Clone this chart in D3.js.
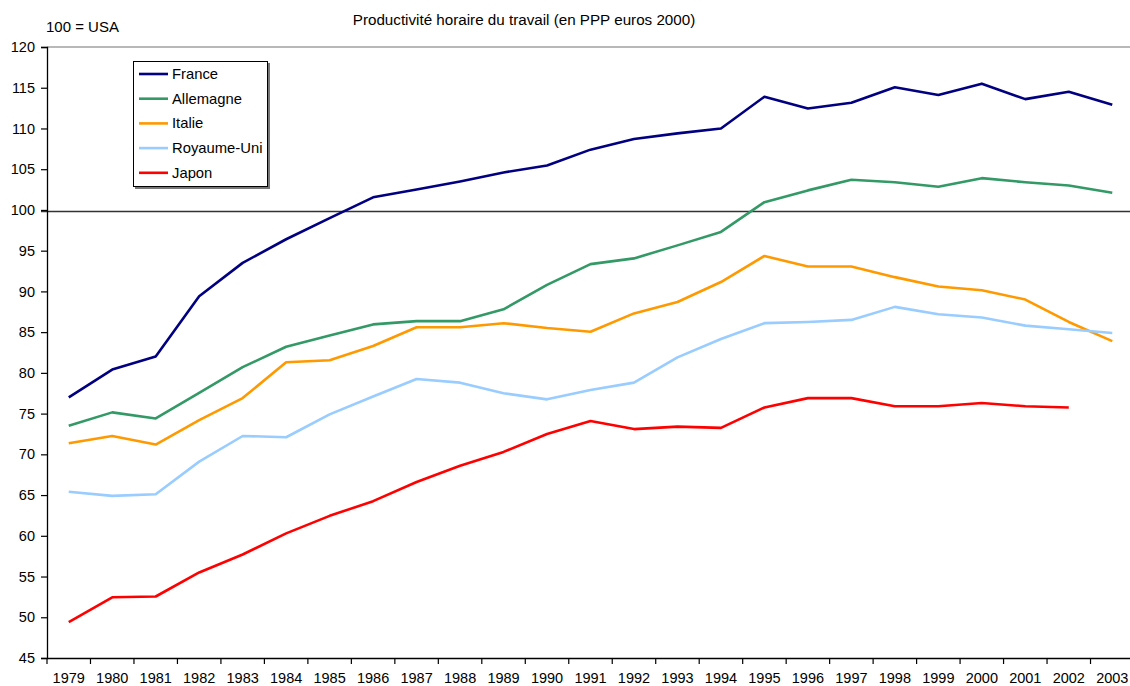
<!DOCTYPE html>
<html><head><meta charset="utf-8">
<script src="https://cdn.jsdelivr.net/npm/d3@7"></script>
<style>body{margin:0;background:#fff}svg{display:block}text{font-family:"Liberation Sans",Arial,sans-serif}</style>
</head><body><svg id="c" width="1130" height="686"></svg>
<script>
const years = ["1979","1980","1981","1982","1983","1984","1985","1986","1987","1988","1989","1990","1991","1992","1993","1994","1995","1996","1997","1998","1999","2000","2001","2002","2003"];
const france = [77.0,80.4,82.0,89.4,93.5,96.4,99.0,101.55,102.5,103.5,104.6,105.45,107.4,108.7,109.4,110.0,113.9,112.45,113.15,115.05,114.1,115.5,113.6,114.5,112.9];
const allemagne = [73.5,75.15,74.4,77.55,80.7,83.2,84.6,85.95,86.35,86.35,87.8,90.8,93.35,94.05,95.65,97.3,100.95,102.4,103.7,103.4,102.85,103.9,103.4,103.0,102.1];
const italie = [71.35,72.25,71.2,74.2,76.9,81.3,81.55,83.3,85.6,85.6,86.1,85.5,85.05,87.3,88.7,91.15,94.35,93.05,93.05,91.75,90.6,90.15,89.0,86.25,83.9];
const royaumeUni = [65.4,64.9,65.1,69.1,72.25,72.1,74.9,77.1,79.25,78.8,77.5,76.75,77.9,78.8,81.9,84.15,86.1,86.25,86.5,88.1,87.2,86.8,85.8,85.35,84.9];
const japon = [49.4,52.45,52.55,55.5,57.7,60.3,62.45,64.25,66.6,68.6,70.3,72.5,74.1,73.1,73.4,73.25,75.75,76.9,76.9,75.9,75.9,76.3,75.9,75.75,null];
const seriesNames = ["France","Allemagne","Italie","Royaume-Uni","Japon"];
const seriesColors = ["#000080","#339966","#FF9900","#99CCFF","#FF0000"];
const yTicks = [45,50,55,60,65,70,75,80,85,90,95,100,105,110,115,120];
const title = "Productivité horaire du travail (en PPP euros 2000)";
const unitLabel = "100 = USA";
const reference = 100;

const seriesData = [france, allemagne, italie, royaumeUni, japon];
const svg = d3.select("#c");
const L = 47, R = 1134, T = 47, B = 658;
const x = d3.scaleBand().domain(years).range([L, R]);
const y = d3.scaleLinear().domain([45, 120]).range([B, T]);

// top border of plot area
svg.append("line").attr("x1", L).attr("x2", 1130).attr("y1", y(120)).attr("y2", y(120))
  .attr("stroke", "#a0a0a0").attr("stroke-width", 1.5);

// reference line 100 = USA
svg.append("line").attr("x1", L - 6).attr("x2", 1130).attr("y1", y(reference) + 1.5).attr("y2", y(reference) + 1.5)
  .attr("stroke", "#333").attr("stroke-width", 1.5);

// y axis
const yAxis = svg.append("g").attr("transform", `translate(${L},0)`)
  .call(d3.axisLeft(y).tickValues(yTicks).tickSize(6).tickPadding(6).tickFormat(d3.format("d")));
yAxis.select(".domain").attr("stroke", "#000").attr("stroke-width", 1.3);
yAxis.selectAll(".tick line").attr("stroke", "#000").attr("stroke-width", 1.2);
yAxis.selectAll("text").attr("font-size", 14.5).attr("fill", "#000")
  .attr("font-family", '"Liberation Sans",Arial,sans-serif');

// x axis
const xAxis = svg.append("g").attr("transform", `translate(0,${B})`)
  .call(d3.axisBottom(x).tickSize(0).tickPadding(15));
xAxis.select(".domain").attr("stroke", "#000").attr("stroke-width", 1.3);
xAxis.selectAll("text").attr("font-size", 14.5).attr("fill", "#000")
  .attr("font-family", '"Liberation Sans",Arial,sans-serif');
// ticks at band boundaries
svg.append("g").selectAll("line").data(years).join("line")
  .attr("x1", d => x(d)).attr("x2", d => x(d)).attr("y1", B).attr("y2", B + 6)
  .attr("stroke", "#000").attr("stroke-width", 1.2);

// lines
const line = d3.line().defined(d => d != null)
  .x((d, i) => x(years[i]) + x.bandwidth() / 2).y(d => y(d));
seriesData.forEach((s, k) => {
  svg.append("path").datum(s).attr("d", line).attr("fill", "none")
    .attr("stroke", seriesColors[k]).attr("stroke-width", 2.6).attr("stroke-linejoin", "round");
});

// titles
svg.append("text").attr("x", 524).attr("y", 25).attr("text-anchor", "middle")
  .attr("font-size", 15.2).text(title);
svg.append("text").attr("x", 46).attr("y", 32).attr("font-size", 15).text(unitLabel);

// legend
const lg = svg.append("g");
lg.append("rect").attr("x", 135).attr("y", 63).attr("width", 135).attr("height", 126).attr("fill", "#777");
lg.append("rect").attr("x", 133.5).attr("y", 61.5).attr("width", 134).attr("height", 125)
  .attr("fill", "#fff").attr("stroke", "#000").attr("stroke-width", 1);
seriesNames.forEach((n, k) => {
  const yy = 74 + k * 24.7;
  lg.append("line").attr("x1", 139).attr("x2", 168).attr("y1", yy).attr("y2", yy)
    .attr("stroke", seriesColors[k]).attr("stroke-width", 2.6);
  lg.append("text").attr("x", 172).attr("y", yy + 5).attr("font-size", 14.8).text(n);
});
</script></body></html>
